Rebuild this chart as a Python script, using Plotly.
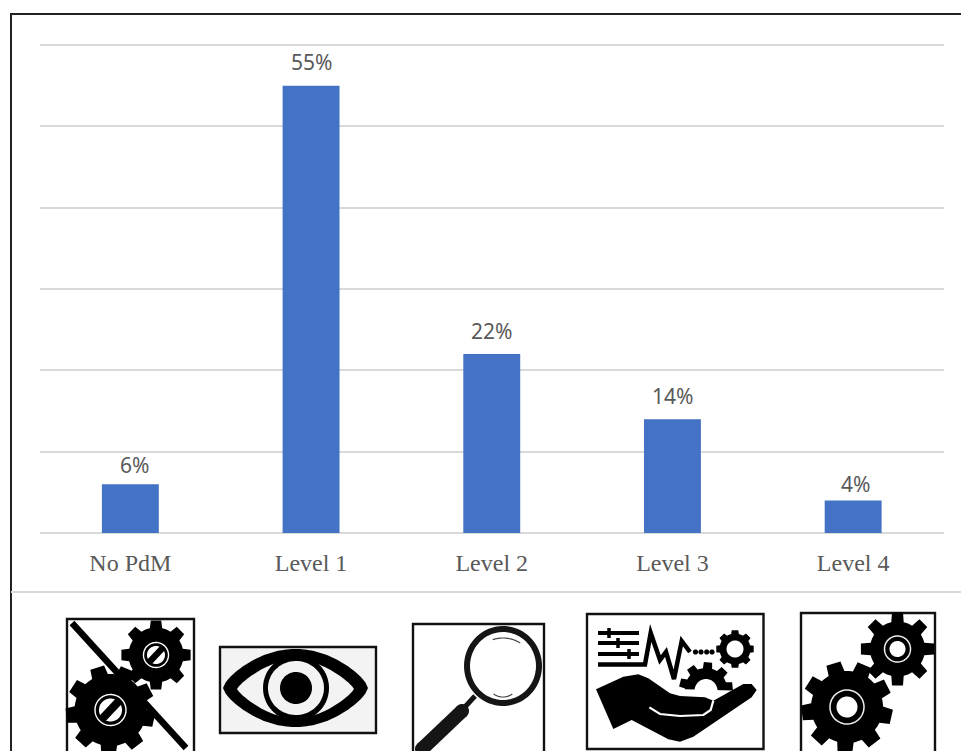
import numpy as np
import plotly.graph_objects as go

# Survey result: share of respondents per predictive-maintenance level
categories = ["No PdM", "Level 1", "Level 2", "Level 3", "Level 4"]
shares = [6, 55, 22, 14, 4]
tick_values = [0, 10, 20, 30, 40, 50, 60]

W, H = 961, 751
BLUE = "#4472C4"
GRID = "#D9D9D9"
LABEL = "#595959"


def px(x, y):
    """Pixel position on the page to paper coordinates."""
    return x / W, 1 - y / H


def poly(points, close=True):
    parts = []
    for i, (x, y) in enumerate(points):
        u, v = px(x, y)
        parts.append(f"{'M' if i == 0 else 'L'}{u:.5f},{v:.5f}")
    return " ".join(parts) + (" Z" if close else "")


def ellipse_pts(cx, cy, rx, ry, start=0.0, stop=2 * np.pi, n=72):
    return [(cx + rx * np.cos(a), cy + ry * np.sin(a)) for a in np.linspace(start, stop, n)]


def gear_pts(cx, cy, ro, ri, teeth, rot=0.0, tip=0.19, base=0.29):
    """Outline of a cog with slightly tapered teeth."""
    pts = []
    step = 2 * np.pi / teeth
    for k in range(teeth):
        a = rot + k * step
        for off, r in [(-base, ri), (-tip, ro), (tip, ro), (base, ri)]:
            pts.append((cx + r * np.cos(a + off * step), cy + r * np.sin(a + off * step)))
        # follow the body circle to the next tooth
        for off in (0.38, 0.5, 0.62):
            pts.append((cx + ri * np.cos(a + off * step), cy + ri * np.sin(a + off * step)))
    return pts


shapes = []


def fill(points, color="black"):
    shapes.append(dict(type="path", xref="paper", yref="paper", path=poly(points),
                       fillcolor=color, line=dict(width=0), layer="above"))


def stroke(points, color="black", width=2.0, close=False):
    shapes.append(dict(type="path", xref="paper", yref="paper", path=poly(points, close),
                       line=dict(color=color, width=width), layer="above"))


def box(x0, y0, x1, y1, face="white"):
    shapes.append(dict(type="path", xref="paper", yref="paper",
                       path=poly([(x0, y0), (x1, y0), (x1, y1), (x0, y1)]),
                       fillcolor=face, line=dict(color="#111111", width=2.4), layer="above"))


def crossed_hub(cx, cy, ring, hole):
    stroke(ellipse_pts(cx, cy, ring, ring), "white", 1.4, True)
    fill(ellipse_pts(cx, cy, hole, hole), "white")
    d = hole + 1
    stroke([(cx - d * 0.7, cy + d * 0.74), (cx + d * 0.7, cy - d * 0.74)], "black", hole * 0.72)


def open_hub(cx, cy, ring, hole):
    stroke(ellipse_pts(cx, cy, ring, ring), "#EEEEEE", 1.5, True)
    fill(ellipse_pts(cx, cy, hole, hole), "white")


def hand_xy(points):
    """Hand icon outline is laid out on a 3x grid anchored at the icon corner."""
    return [(580 + x / 3, 610 + y / 3) for x, y in points]


# Page frame and the rule above the icon strip
stroke([(11, H), (11, 14), (W, 14)], "#222222", 2)
stroke([(11, 592), (W, 592)], GRID, 2.2)

# Icon: no predictive maintenance
box(67, 619, 194, 770)
stroke([(72, 623), (186, 748)], "black", 6.5)
fill(gear_pts(156, 655, 35, 27.5, 8, 0.0))
fill(gear_pts(110.5, 710, 45, 36, 9, 0.22, 0.23, 0.33))
crossed_hub(156, 655, 12.5, 9)
crossed_hub(110.5, 710, 15.5, 11.5)

# Icon: eye
box(220, 647, 376, 733, "#F3F3F3")
ts = np.linspace(0, 1, 60)
top = [(223 + 145 * t, 688 - 39 * np.sin(np.pi * t) ** 0.68) for t in ts]
bot = [(368 - 145 * t, 688 + 39 * np.sin(np.pi * t) ** 0.68) for t in ts]
fill(top + bot)
top_in = [(237 + 117 * t, 689 - 29 * np.sin(np.pi * t) ** 0.8) for t in ts]
bot_in = [(354 - 117 * t, 689 + 29 * np.sin(np.pi * t) ** 0.8) for t in ts]
fill(top_in + bot_in, "#F3F3F3")
fill(ellipse_pts(296, 688, 33, 33))
fill(ellipse_pts(296, 688, 28, 27), "#F3F3F3")
fill(ellipse_pts(296, 688, 16, 16))

# Icon: magnifying glass
box(413, 624, 544, 770)
stroke(ellipse_pts(503, 666, 36, 37), "#151515", 6, True)
stroke([(475, 696), (464, 708)], "#151515", 5)
stroke([(462, 711), (422, 749)], "#151515", 14)
fill(ellipse_pts(462, 711, 7, 7), "#151515")
fill(ellipse_pts(422, 749, 7, 7), "#151515")
stroke(ellipse_pts(503, 666, 30, 28, np.radians(-110), np.radians(-55), 16), "#444444", 1.2)
stroke(ellipse_pts(503, 666, 22, 31, np.radians(65), np.radians(115), 16), "#444444", 1.2)

# Icon: monitoring dashboard over an open hand
box(587, 614, 763.5, 749)
for y, mark in [(633, 609), (643, 618), (654, 629)]:
    stroke([(598, y), (639, y)], "black", 4)
    stroke([(mark, y - 5), (mark, y + 5)], "black", 3.5)
stroke([(598, 664.5), (645, 664.5), (650.7, 633), (660, 660), (666, 652), (674, 679),
        (681.7, 641), (690, 652)], "black", 4.5)
for x in (695.5, 701, 706.7, 712):
    fill(ellipse_pts(x, 652, 2.6, 2.6))
fill(gear_pts(735, 649, 19, 15.5, 8, 0.0, 0.22, 0.32))
fill(ellipse_pts(735, 649, 8.5, 8.5), "white")
half = gear_pts(706, 689, 27, 21, 9, -0.1, 0.22, 0.32)
fill([p for p in half if p[1] < 691])
fill(ellipse_pts(706, 691, 11.5, 12, np.pi, 2 * np.pi, 24), "white")
fill(hand_xy([(48, 238), (130, 200), (175, 193), (205, 205), (270, 250), (300, 258),
              (375, 262), (400, 272), (490, 222), (515, 222), (530, 240), (515, 262),
              (340, 380), (300, 395), (265, 388), (155, 330), (100, 357)]))
stroke(hand_xy([(208, 292), (240, 312), (300, 318), (370, 315), (392, 300), (400, 272)]),
       "white", 2.2)

# Icon: running cogs
box(801, 613, 935, 770)
fill(gear_pts(897.5, 649, 37, 27.5, 8, 0.0))
fill(gear_pts(847, 707, 46, 36, 9, 0.22, 0.23, 0.33))
open_hub(897.5, 649, 13, 8)
open_hub(847, 707, 17, 10.5)

fig = go.Figure(go.Bar(
    x=categories,
    y=shares,
    width=0.315,
    marker=dict(color=BLUE, line=dict(width=0)),
    hoverinfo="skip",
))

# Percent labels sit above each bar; small per-bar nudges for the tight ones
lift = {"No PdM": 3, "Level 1": 8, "Level 2": 7, "Level 3": 7, "Level 4": 0}
slide = {"No PdM": 4, "Level 4": 2}
annotations = [
    dict(x=c, y=v, text=f"{v}%", showarrow=False, xref="x", yref="y",
         xanchor="center", yanchor="bottom", yshift=lift[c], xshift=slide.get(c, 0),
         font=dict(family="Noto Sans, Open Sans, sans-serif", size=21, color=LABEL))
    for c, v in zip(categories, shares)
]

fig.update_layout(
    width=W,
    height=H,
    margin=dict(l=0, r=0, t=0, b=0),
    paper_bgcolor="white",
    plot_bgcolor="white",
    showlegend=False,
    shapes=shapes,
    annotations=annotations,
    xaxis=dict(
        domain=[40 / W, 943.5 / W],
        range=[-0.5, 4.5],
        type="category",
        showgrid=False,
        showline=False,
        ticks="",
        ticklabelstandoff=13,
        tickfont=dict(family="Liberation Serif, serif", size=24, color=LABEL),
    ),
    yaxis=dict(
        domain=[1 - 533 / H, 1 - 41 / H],
        range=[0, 60.5],
        tickvals=tick_values,
        showticklabels=False,
        ticks="",
        showgrid=True,
        gridcolor=GRID,
        gridwidth=2.2,
        zeroline=True,
        zerolinecolor=GRID,
        zerolinewidth=2.2,
        showline=False,
    ),
)

fig.write_html("out.html", config=dict(displayModeBar=False))
